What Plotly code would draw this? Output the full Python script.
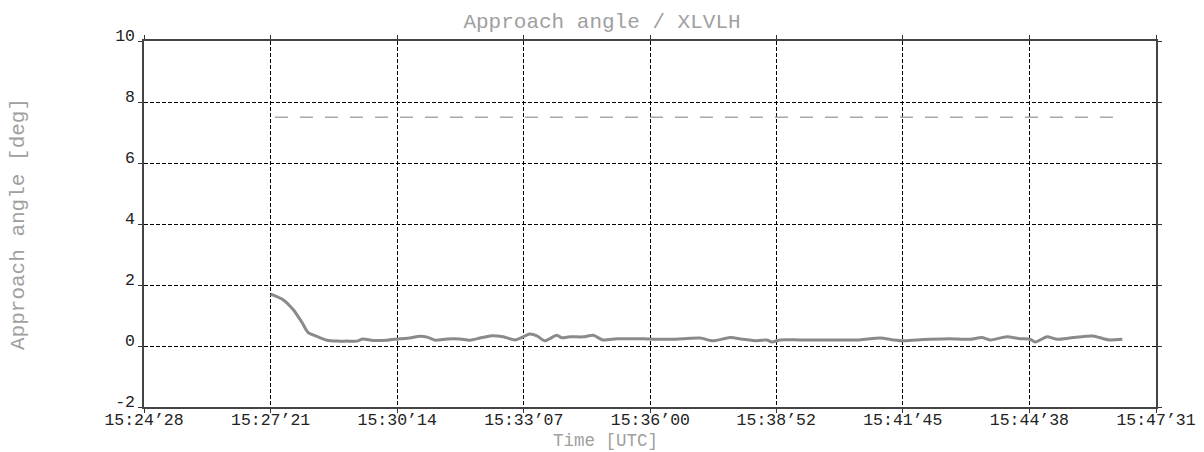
import plotly.graph_objects as go
from datetime import datetime

DAY = "2024-01-01 "

# Measured series (UTC time, approach angle in deg)
times = [
    "15:27:21", "15:27:38", "15:27:52", "15:28:04", "15:28:12", "15:28:24", "15:28:38",
    "15:28:52", "15:29:05", "15:29:19", "15:29:27", "15:29:41", "15:30:00", "15:30:18",
    "15:30:31", "15:30:45", "15:30:55", "15:31:06", "15:31:22", "15:31:40", "15:31:53",
    "15:32:07", "15:32:21", "15:32:39", "15:32:55", "15:33:06", "15:33:15", "15:33:25",
    "15:33:36", "15:33:52", "15:33:59", "15:34:10", "15:34:28", "15:34:42", "15:34:55",
    "15:35:14", "15:35:32", "15:35:50", "15:36:09", "15:36:27", "15:36:45", "15:37:08",
    "15:37:26", "15:37:49", "15:38:07", "15:38:26", "15:38:39", "15:38:46", "15:38:57",
    "15:39:24", "15:39:52", "15:40:19", "15:40:46", "15:41:14", "15:41:32", "15:41:45",
    "15:42:04", "15:42:22", "15:42:49", "15:43:17", "15:43:33", "15:43:44", "15:44:07",
    "15:44:25", "15:44:39", "15:44:46", "15:45:02", "15:45:16", "15:45:38", "15:46:05",
    "15:46:19", "15:46:28", "15:46:45",
]
angle = [
    1.70, 1.52, 1.19, 0.77, 0.45, 0.32, 0.19,
    0.16, 0.16, 0.16, 0.23, 0.18, 0.19, 0.24,
    0.26, 0.32, 0.29, 0.19, 0.23, 0.23, 0.19,
    0.26, 0.33, 0.30, 0.20, 0.30, 0.39, 0.33,
    0.17, 0.35, 0.27, 0.30, 0.30, 0.35, 0.20,
    0.24, 0.24, 0.24, 0.22, 0.22, 0.24, 0.26,
    0.17, 0.28, 0.22, 0.17, 0.20, 0.13, 0.20,
    0.20, 0.20, 0.20, 0.20, 0.26, 0.20, 0.17,
    0.20, 0.22, 0.24, 0.22, 0.28, 0.20, 0.30,
    0.24, 0.22, 0.13, 0.30, 0.22, 0.28, 0.33,
    0.24, 0.20, 0.22,
]

# Limit line
limit_times = ["15:27:27", "15:46:45"]
limit_value = [7.5, 7.5]

# Axis ticks
x_range = ["15:24:28", "15:47:31"]
x_tick_times = ["15:24:28", "15:27:21", "15:30:14", "15:33:07", "15:36:00",
                "15:38:52", "15:41:45", "15:44:38", "15:47:31"]
x_tick_text = ["15:24\u201928", "15:27\u201921", "15:30\u201914", "15:33\u201907", "15:36\u201900",
               "15:38\u201952", "15:41\u201945", "15:44\u201938", "15:47\u201931"]
y_ticks = [-2, 0, 2, 4, 6, 8, 10]


def ts(t):
    return datetime.strptime(DAY + t, "%Y-%m-%d %H:%M:%S")


FONT = "Liberation Mono, Courier New, monospace"
GRAY = "#a0a0a0"
TICKFONT = dict(family=FONT, size=16.5, color="#222")

fig = go.Figure()
fig.add_trace(go.Scatter(
    x=[ts(t) for t in limit_times], y=limit_value, mode="lines",
    line=dict(color="#a8a8a8", width=1.5, dash="13px,12px"),
    hoverinfo="skip", showlegend=False,
))
fig.add_trace(go.Scatter(
    x=[ts(t) for t in times], y=angle, mode="lines",
    line=dict(color="#8a8a8a", width=3, shape="spline", smoothing=0.6),
    showlegend=False,
))

axis_common = dict(
    automargin=False,
    showline=True, linecolor="#444", linewidth=1.5, mirror="ticks",
    ticks="outside", ticklen=4, tickcolor="#333", tickwidth=1,
    showgrid=True, gridcolor="#000", gridwidth=1, griddash="4px,2px",
    zeroline=False,
    tickfont=TICKFONT,
)

xr = [ts(x_range[0]), ts(x_range[1])]
xtv = [ts(t) for t in x_tick_times]

fig.update_layout(
    width=1204, height=452,
    margin=dict(l=144, r=48, t=41, b=45, autoexpand=False),
    paper_bgcolor="white", plot_bgcolor="white",
    title=dict(text="Approach angle / XLVLH", x=0.5, xref="container",
               y=1 - 21 / 452, yref="container", xanchor="center", yanchor="middle",
               automargin=False,
               font=dict(family=FONT, size=21, color=GRAY)),
    xaxis=dict(range=xr, tickmode="array", tickvals=xtv, ticktext=x_tick_text,
               showticklabels=False, **axis_common),
    xaxis2=dict(range=xr, overlaying="x", matches="x", anchor="y", side="bottom",
                tickmode="array", tickvals=xtv, ticktext=x_tick_text,
                ticks="", showline=False, showgrid=False, zeroline=False,
                automargin=False, ticklabelstandoff=0, tickfont=TICKFONT),
    yaxis=dict(range=[-2, 10], tickmode="array", tickvals=y_ticks,
               ticktext=[str(v) for v in y_ticks], ticklabelshift=-6,
               ticklabelstandoff=0, **axis_common),
    annotations=[
        dict(text="Time [UTC]", xref="paper", yref="paper",
             x=(605 - 144) / 1012, y=-(441 - 407) / 366, xanchor="center", yanchor="middle",
             showarrow=False, font=dict(family=FONT, size=17.5, color=GRAY)),
        dict(text="Approach angle [deg]", xref="paper", yref="paper",
             x=(18 - 144) / 1012, y=0.5, xanchor="center", yanchor="middle",
             textangle=-90, showarrow=False, font=dict(family=FONT, size=21, color=GRAY)),
    ],
)
# an invisible trace to activate xaxis2
fig.add_trace(go.Scatter(x=xr, y=[None, None], xaxis="x2", yaxis="y",
                         mode="lines", showlegend=False, hoverinfo="skip"))

fig.write_html("out.html", config={"displayModeBar": False},
               post_script="document.body.style.margin='0';")
